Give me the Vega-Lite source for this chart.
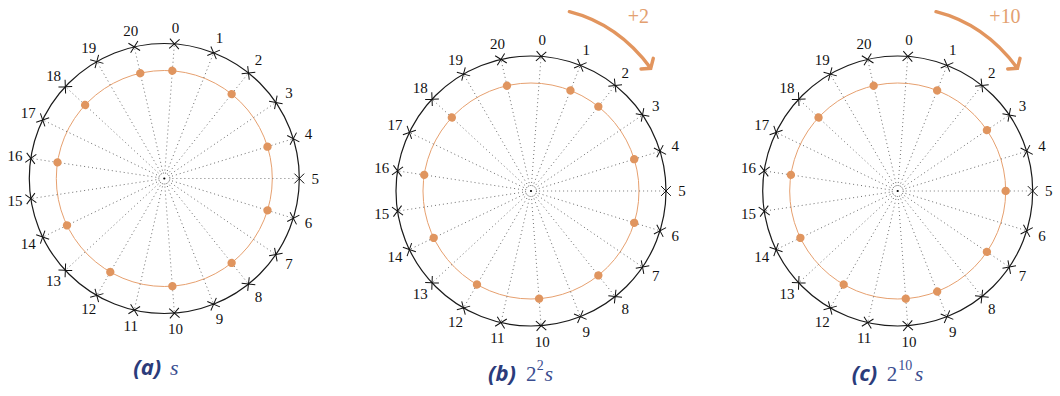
{
  "$schema": "https://vega.github.io/schema/vega-lite/v6.json",
  "padding": {"left": 4.3, "top": 0, "right": 0, "bottom": 6},
  "bounds": "flush",
  "spacing": 46.7,
  "config": {"view": {"stroke": null}},
  "datasets": {
    "a": [
      {"k": 0, "dot": true}, {"k": 1, "dot": false}, {"k": 2, "dot": true}, {"k": 3, "dot": false},
      {"k": 4, "dot": true}, {"k": 5, "dot": false}, {"k": 6, "dot": true}, {"k": 7, "dot": false},
      {"k": 8, "dot": true}, {"k": 9, "dot": false}, {"k": 10, "dot": true}, {"k": 11, "dot": false},
      {"k": 12, "dot": true}, {"k": 13, "dot": false}, {"k": 14, "dot": true}, {"k": 15, "dot": false},
      {"k": 16, "dot": true}, {"k": 17, "dot": false}, {"k": 18, "dot": true}, {"k": 19, "dot": false},
      {"k": 20, "dot": true}
    ],
    "b": [
      {"k": 0, "dot": false}, {"k": 1, "dot": true}, {"k": 2, "dot": true}, {"k": 3, "dot": false},
      {"k": 4, "dot": true}, {"k": 5, "dot": false}, {"k": 6, "dot": true}, {"k": 7, "dot": false},
      {"k": 8, "dot": true}, {"k": 9, "dot": false}, {"k": 10, "dot": true}, {"k": 11, "dot": false},
      {"k": 12, "dot": true}, {"k": 13, "dot": false}, {"k": 14, "dot": true}, {"k": 15, "dot": false},
      {"k": 16, "dot": true}, {"k": 17, "dot": false}, {"k": 18, "dot": true}, {"k": 19, "dot": false},
      {"k": 20, "dot": true}
    ],
    "c": [
      {"k": 0, "dot": false}, {"k": 1, "dot": true}, {"k": 2, "dot": false}, {"k": 3, "dot": true},
      {"k": 4, "dot": false}, {"k": 5, "dot": true}, {"k": 6, "dot": false}, {"k": 7, "dot": true},
      {"k": 8, "dot": false}, {"k": 9, "dot": true}, {"k": 10, "dot": true}, {"k": 11, "dot": false},
      {"k": 12, "dot": true}, {"k": 13, "dot": false}, {"k": 14, "dot": true}, {"k": 15, "dot": false},
      {"k": 16, "dot": true}, {"k": 17, "dot": false}, {"k": 18, "dot": true}, {"k": 19, "dot": false},
      {"k": 20, "dot": true}
    ]
  },
  "hconcat": [
    {
      "width": 320, "height": 357,
      "layer": [
        {"data": {"values": [{"ring": "outer"}]}, "mark": {"type": "point", "shape": "circle", "size": 72900, "filled": false, "stroke": "#1a1a1a", "strokeWidth": 1.2, "opacity": 1}},
        {"data": {"values": [{"ring": "inner"}]}, "mark": {"type": "point", "shape": "circle", "size": 46656, "filled": false, "stroke": "#E6A06E", "strokeWidth": 1, "opacity": 1}},
        {"data": {"name": "a"}, "mark": {"type": "point", "shape": "M0,-0.06L0,-1", "size": 72900, "filled": false, "stroke": "#555555", "strokeWidth": 0.8, "strokeDash": [1, 3], "opacity": 1},
         "encoding": {"angle": {"field": "k", "type": "quantitative", "scale": {"domain": [0, 21], "range": [4.2857, 364.2857], "zero": false, "nice": false}, "legend": null}}},
        {"data": {"name": "a"}, "mark": {"type": "point", "shape": "M-0.036,-1.036L0.036,-0.964M0.036,-1.036L-0.036,-0.964", "size": 72900, "filled": false, "stroke": "#111111", "strokeWidth": 1, "opacity": 1},
         "encoding": {"angle": {"field": "k", "type": "quantitative", "scale": {"domain": [0, 21], "range": [4.2857, 364.2857], "zero": false, "nice": false}, "legend": null}}},
        {"data": {"name": "a"}, "transform": [{"filter": "datum.dot"}], "mark": {"type": "point", "shape": "M0.031,-0.8C0.031,-0.78288 0.01712,-0.769 0,-0.769C-0.01712,-0.769 -0.031,-0.78288 -0.031,-0.8C-0.031,-0.81712 -0.01712,-0.831 0,-0.831C0.01712,-0.831 0.031,-0.81712 0.031,-0.8Z", "size": 72900, "filled": true, "fill": "#E0955F", "strokeWidth": 0, "opacity": 1},
         "encoding": {"angle": {"field": "k", "type": "quantitative", "scale": {"domain": [0, 21], "range": [4.2857, 364.2857], "zero": false, "nice": false}, "legend": null}}},
        {"data": {"values": [{"hub": "ring"}]}, "mark": {"type": "point", "shape": "circle", "size": 121, "filled": false, "stroke": "#333333", "strokeWidth": 0.8, "strokeDash": [1, 1], "opacity": 1}},
        {"data": {"values": [{"hub": "dot"}]}, "mark": {"type": "point", "shape": "circle", "size": 5, "filled": true, "fill": "#000000", "opacity": 1}},
        {"data": {"name": "a"}, "mark": {"type": "text", "radius": 151, "font": "Liberation Serif", "fontSize": 15, "align": "center", "baseline": "middle", "fill": "#111111"},
         "encoding": {"theta": {"field": "k", "type": "quantitative", "stack": null, "scale": {"domain": [0, 21], "range": [0.0748, 6.358], "zero": false, "nice": false}}, "text": {"field": "k", "type": "nominal"}}},
        {"data": {"values": [{"cap": "(a)"}]}, "mark": {"type": "text", "theta": 3.14159, "radius": 197, "dx": -31, "align": "left", "baseline": "alphabetic", "font": "Open Sans", "fontSize": 22, "fontWeight": "bold", "fontStyle": "italic", "fill": "#2B3C7B"},
         "encoding": {"text": {"field": "cap", "type": "nominal"}}},
        {"data": {"values": [{"cap": "s"}]}, "mark": {"type": "text", "theta": 3.14159, "radius": 197, "dx": 5.7, "align": "left", "baseline": "alphabetic", "font": "Liberation Serif", "fontSize": 22, "fontStyle": "italic", "fill": "#3A4D8F"},
         "encoding": {"text": {"field": "cap", "type": "nominal"}}}
      ]
    },
    {
      "width": 320, "height": 382,
      "layer": [
        {"data": {"values": [{"ring": "outer"}]}, "mark": {"type": "point", "shape": "circle", "size": 72900, "filled": false, "stroke": "#1a1a1a", "strokeWidth": 1.2, "opacity": 1}},
        {"data": {"values": [{"ring": "inner"}]}, "mark": {"type": "point", "shape": "circle", "size": 46656, "filled": false, "stroke": "#E6A06E", "strokeWidth": 1, "opacity": 1}},
        {"data": {"name": "b"}, "mark": {"type": "point", "shape": "M0,-0.06L0,-1", "size": 72900, "filled": false, "stroke": "#555555", "strokeWidth": 0.8, "strokeDash": [1, 3], "opacity": 1},
         "encoding": {"angle": {"field": "k", "type": "quantitative", "scale": {"domain": [0, 21], "range": [4.2857, 364.2857], "zero": false, "nice": false}, "legend": null}}},
        {"data": {"name": "b"}, "mark": {"type": "point", "shape": "M-0.036,-1.036L0.036,-0.964M0.036,-1.036L-0.036,-0.964", "size": 72900, "filled": false, "stroke": "#111111", "strokeWidth": 1, "opacity": 1},
         "encoding": {"angle": {"field": "k", "type": "quantitative", "scale": {"domain": [0, 21], "range": [4.2857, 364.2857], "zero": false, "nice": false}, "legend": null}}},
        {"data": {"name": "b"}, "transform": [{"filter": "datum.dot"}], "mark": {"type": "point", "shape": "M0.031,-0.8C0.031,-0.78288 0.01712,-0.769 0,-0.769C-0.01712,-0.769 -0.031,-0.78288 -0.031,-0.8C-0.031,-0.81712 -0.01712,-0.831 0,-0.831C0.01712,-0.831 0.031,-0.81712 0.031,-0.8Z", "size": 72900, "filled": true, "fill": "#E0955F", "strokeWidth": 0, "opacity": 1},
         "encoding": {"angle": {"field": "k", "type": "quantitative", "scale": {"domain": [0, 21], "range": [4.2857, 364.2857], "zero": false, "nice": false}, "legend": null}}},
        {"data": {"values": [{"hub": "ring"}]}, "mark": {"type": "point", "shape": "circle", "size": 121, "filled": false, "stroke": "#333333", "strokeWidth": 0.8, "strokeDash": [1, 1], "opacity": 1}},
        {"data": {"values": [{"hub": "dot"}]}, "mark": {"type": "point", "shape": "circle", "size": 5, "filled": true, "fill": "#000000", "opacity": 1}},
        {"data": {"name": "b"}, "mark": {"type": "text", "radius": 151, "font": "Liberation Serif", "fontSize": 15, "align": "center", "baseline": "middle", "fill": "#111111"},
         "encoding": {"theta": {"field": "k", "type": "quantitative", "stack": null, "scale": {"domain": [0, 21], "range": [0.0748, 6.358], "zero": false, "nice": false}}, "text": {"field": "k", "type": "nominal"}}},
        {"data": {"values": [{"shift": "+2"}]}, "mark": {"type": "point", "shape": "M0.284,-1.328Q0.644,-1.237 0.887,-0.909M0.815,-0.904L0.887,-0.909L0.906,-0.983", "size": 72900, "filled": false, "stroke": "#E2955E", "strokeWidth": 3.4, "strokeCap": "round", "strokeJoin": "miter", "opacity": 1}},
        {"data": {"values": [{"shift": "+2"}]}, "mark": {"type": "text", "theta": 0.5538, "radius": 204, "align": "center", "baseline": "middle", "font": "Liberation Serif", "fontSize": 20, "fill": "#E3A070"},
         "encoding": {"text": {"field": "shift", "type": "nominal"}}},
        {"data": {"values": [{"cap": "(b)"}]}, "mark": {"type": "text", "theta": 3.14159, "radius": 190, "dx": -43, "align": "left", "baseline": "alphabetic", "font": "Open Sans", "fontSize": 22, "fontWeight": "bold", "fontStyle": "italic", "fill": "#2B3C7B"},
         "encoding": {"text": {"field": "cap", "type": "nominal"}}},
        {"data": {"values": [{"cap": "2"}]}, "mark": {"type": "text", "theta": 3.14159, "radius": 190, "dx": -5, "align": "left", "baseline": "alphabetic", "font": "Liberation Serif", "fontSize": 21, "fill": "#3A4D8F"},
         "encoding": {"text": {"field": "cap", "type": "nominal"}}},
        {"data": {"values": [{"cap": "2"}]}, "mark": {"type": "text", "theta": 3.14159, "radius": 179, "dx": 5.8, "align": "left", "baseline": "alphabetic", "font": "Liberation Serif", "fontSize": 14, "fill": "#3A4D8F"},
         "encoding": {"text": {"field": "cap", "type": "nominal"}}},
        {"data": {"values": [{"cap": "s"}]}, "mark": {"type": "text", "theta": 3.14159, "radius": 190, "dx": 13.5, "align": "left", "baseline": "alphabetic", "font": "Liberation Serif", "fontSize": 22, "fontStyle": "italic", "fill": "#3A4D8F"},
         "encoding": {"text": {"field": "cap", "type": "nominal"}}}
      ]
    },
    {
      "width": 320, "height": 382,
      "layer": [
        {"data": {"values": [{"ring": "outer"}]}, "mark": {"type": "point", "shape": "circle", "size": 72900, "filled": false, "stroke": "#1a1a1a", "strokeWidth": 1.2, "opacity": 1}},
        {"data": {"values": [{"ring": "inner"}]}, "mark": {"type": "point", "shape": "circle", "size": 46656, "filled": false, "stroke": "#E6A06E", "strokeWidth": 1, "opacity": 1}},
        {"data": {"name": "c"}, "mark": {"type": "point", "shape": "M0,-0.06L0,-1", "size": 72900, "filled": false, "stroke": "#555555", "strokeWidth": 0.8, "strokeDash": [1, 3], "opacity": 1},
         "encoding": {"angle": {"field": "k", "type": "quantitative", "scale": {"domain": [0, 21], "range": [4.2857, 364.2857], "zero": false, "nice": false}, "legend": null}}},
        {"data": {"name": "c"}, "mark": {"type": "point", "shape": "M-0.036,-1.036L0.036,-0.964M0.036,-1.036L-0.036,-0.964", "size": 72900, "filled": false, "stroke": "#111111", "strokeWidth": 1, "opacity": 1},
         "encoding": {"angle": {"field": "k", "type": "quantitative", "scale": {"domain": [0, 21], "range": [4.2857, 364.2857], "zero": false, "nice": false}, "legend": null}}},
        {"data": {"name": "c"}, "transform": [{"filter": "datum.dot"}], "mark": {"type": "point", "shape": "M0.031,-0.8C0.031,-0.78288 0.01712,-0.769 0,-0.769C-0.01712,-0.769 -0.031,-0.78288 -0.031,-0.8C-0.031,-0.81712 -0.01712,-0.831 0,-0.831C0.01712,-0.831 0.031,-0.81712 0.031,-0.8Z", "size": 72900, "filled": true, "fill": "#E0955F", "strokeWidth": 0, "opacity": 1},
         "encoding": {"angle": {"field": "k", "type": "quantitative", "scale": {"domain": [0, 21], "range": [4.2857, 364.2857], "zero": false, "nice": false}, "legend": null}}},
        {"data": {"values": [{"hub": "ring"}]}, "mark": {"type": "point", "shape": "circle", "size": 121, "filled": false, "stroke": "#333333", "strokeWidth": 0.8, "strokeDash": [1, 1], "opacity": 1}},
        {"data": {"values": [{"hub": "dot"}]}, "mark": {"type": "point", "shape": "circle", "size": 5, "filled": true, "fill": "#000000", "opacity": 1}},
        {"data": {"name": "c"}, "mark": {"type": "text", "radius": 151, "font": "Liberation Serif", "fontSize": 15, "align": "center", "baseline": "middle", "fill": "#111111"},
         "encoding": {"theta": {"field": "k", "type": "quantitative", "stack": null, "scale": {"domain": [0, 21], "range": [0.0748, 6.358], "zero": false, "nice": false}}, "text": {"field": "k", "type": "nominal"}}},
        {"data": {"values": [{"shift": "+10"}]}, "mark": {"type": "point", "shape": "M0.284,-1.328Q0.644,-1.237 0.887,-0.909M0.815,-0.904L0.887,-0.909L0.906,-0.983", "size": 72900, "filled": false, "stroke": "#E2955E", "strokeWidth": 3.4, "strokeCap": "round", "strokeJoin": "miter", "opacity": 1}},
        {"data": {"values": [{"shift": "+10"}]}, "mark": {"type": "text", "theta": 0.5538, "radius": 204, "align": "center", "baseline": "middle", "font": "Liberation Serif", "fontSize": 20, "fill": "#E3A070"},
         "encoding": {"text": {"field": "shift", "type": "nominal"}}},
        {"data": {"values": [{"cap": "(c)"}]}, "mark": {"type": "text", "theta": 3.14159, "radius": 190, "dx": -46, "align": "left", "baseline": "alphabetic", "font": "Open Sans", "fontSize": 22, "fontWeight": "bold", "fontStyle": "italic", "fill": "#2B3C7B"},
         "encoding": {"text": {"field": "cap", "type": "nominal"}}},
        {"data": {"values": [{"cap": "2"}]}, "mark": {"type": "text", "theta": 3.14159, "radius": 190, "dx": -11, "align": "left", "baseline": "alphabetic", "font": "Liberation Serif", "fontSize": 21, "fill": "#3A4D8F"},
         "encoding": {"text": {"field": "cap", "type": "nominal"}}},
        {"data": {"values": [{"cap": "10"}]}, "mark": {"type": "text", "theta": 3.14159, "radius": 179, "dx": 0.5, "align": "left", "baseline": "alphabetic", "font": "Liberation Serif", "fontSize": 14, "fill": "#3A4D8F"},
         "encoding": {"text": {"field": "cap", "type": "nominal"}}},
        {"data": {"values": [{"cap": "s"}]}, "mark": {"type": "text", "theta": 3.14159, "radius": 190, "dx": 17, "align": "left", "baseline": "alphabetic", "font": "Liberation Serif", "fontSize": 22, "fontStyle": "italic", "fill": "#3A4D8F"},
         "encoding": {"text": {"field": "cap", "type": "nominal"}}}
      ]
    }
  ]
}
